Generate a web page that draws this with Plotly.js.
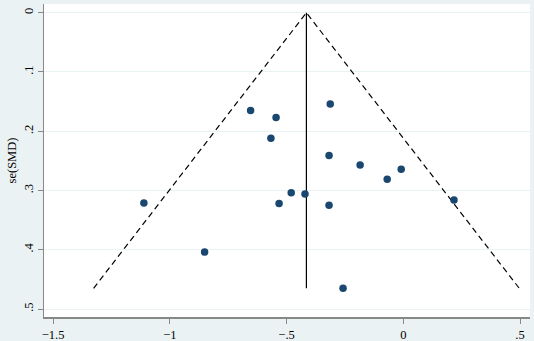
<!DOCTYPE html>
<html>
<head>
<meta charset="utf-8">
<script src="https://cdn.plot.ly/plotly-3.0.1.min.js"></script>
<style>html,body{margin:0;padding:0;background:#EAF2F3;}#chart{width:534px;height:341px;}</style>
</head>
<body>
<div id="chart"></div>
<script>
const smd = [-0.313, -0.654, -0.545, -0.567, -0.318, -0.185, -0.009, -0.069, -1.111, -0.480, -0.421, -0.532, -0.318, 0.217, -0.851, -0.258];
const se  = [0.154, 0.165, 0.177, 0.212, 0.241, 0.257, 0.264, 0.281, 0.321, 0.304, 0.306, 0.322, 0.325, 0.316, 0.404, 0.465];
const pooled = -0.415;
const seMax = 0.465;
const xTicks = [-1.5, -1, -0.5, 0, 0.5];
const xTickText = ["\u22121.5", "\u22121", "\u2212.5", "0", ".5"];
const yTicks = [0, 0.1, 0.2, 0.3, 0.4, 0.5];
const yTickText = ["0", ".1", ".2", ".3", ".4", ".5"];

const z = 1.96;
const traces = [
  {x: [pooled - z*seMax, pooled, pooled + z*seMax], y: [seMax, 0, seMax], mode: 'lines',
   line: {color: '#000', width: 1.2, dash: '6px,4px'}, hoverinfo: 'skip'},
  {x: [pooled, pooled], y: [0, seMax], mode: 'lines', line: {color: '#000', width: 1.2}, hoverinfo: 'skip'},
  {x: smd, y: se, mode: 'markers', marker: {color: '#1A476F', size: 7.5}}
];
const font = {family: '"Liberation Serif", "Times New Roman", serif', size: 12.5, color: '#000'};
const layout = {
  width: 534, height: 341,
  margin: {l: 44, r: 4, t: 4, b: 24, pad: 0},
  paper_bgcolor: '#EAF2F3', plot_bgcolor: '#FFFFFF',
  showlegend: false, font: font,
  xaxis: {range: [-1.5388, 0.5426], tickvals: xTicks, ticktext: xTickText, showgrid: false, zeroline: false,
          showline: true, linecolor: '#888', linewidth: 1.5, ticks: 'outside', ticklen: 5, tickcolor: '#888',
          tickfont: font},
  yaxis: {range: [0.5135, -0.0147], tickvals: yTicks, ticktext: yTickText, showgrid: true, gridcolor: '#EAF2F3',
          gridwidth: 1, zeroline: false, showline: true, linecolor: '#888', linewidth: 1.5, ticks: 'outside',
          ticklen: 5, tickcolor: '#888', tickangle: -90, tickfont: font,
          title: {text: 'se(SMD)', font: font, standoff: 2}}
};
Plotly.newPlot('chart', traces, layout, {displayModeBar: false, staticPlot: true});
</script>
</body>
</html>
